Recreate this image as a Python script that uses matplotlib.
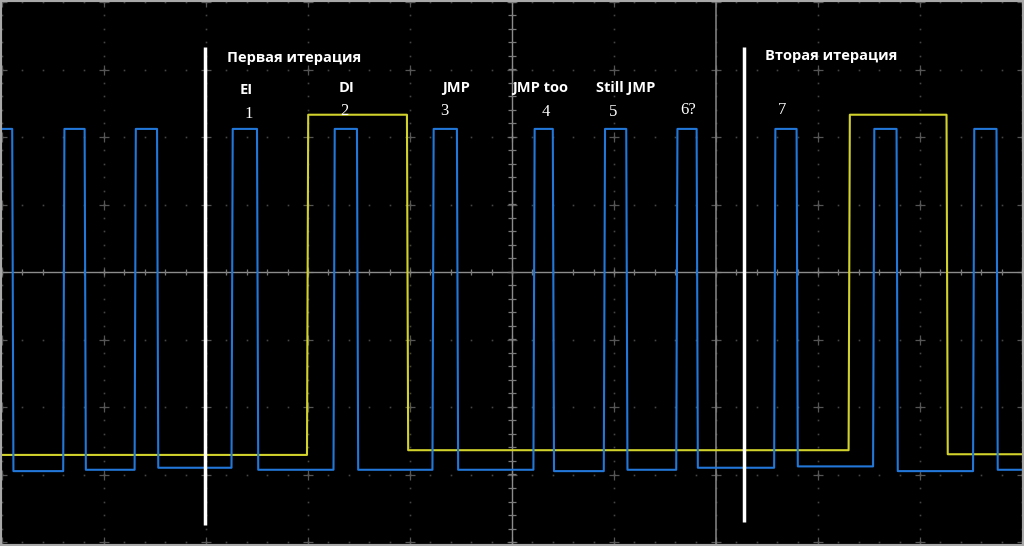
import numpy as np
import matplotlib.pyplot as plt

# time in divisions (centre of screen = 0), voltage in divisions
# blue channel: pulse start / end times
blue_starts = [-5.10, -4.40, -3.70, -2.75, -1.75, -0.78, 0.21, 0.90, 1.61, 2.57, 3.54, 4.52]
blue_ends = [-4.90, -4.19, -3.48, -2.50, -1.52, -0.54, 0.40, 1.12, 1.81, 2.79, 3.77, 4.75]
blue_high = 2.12
blue_low = [-2.93, -2.95, -2.93, -2.90, -2.93, -2.93, -2.93, -2.95, -2.93, -2.90, -2.88, -2.95, -2.93]

# yellow channel
yellow_starts = [-2.01, 3.30]
yellow_ends = [-1.03, 4.26]
yellow_high = 2.33
yellow_low = [-2.71, -2.64, -2.70]

# white markers (iteration boundaries)
marker_x = [-3.01, 2.27]
marker_top = [3.33, 3.33]
marker_bottom = [-3.75, -3.70]
cursor_x = 2.0

labels = ["EI", "DI", "JMP", "JMP too", "Still JMP"]
labels_px = [(246, 90), (347, 88), (456, 88), (540, 88), (626, 88)]
numbers = ["1", "2", "3", "4", "5", "6?", "7"]
numbers_px = [(249, 114), (344, 111), (444, 111), (546, 112), (613, 112), (688, 110), (782, 110)]
titles = ["Первая итерация", "Вторая итерация"]
titles_px = [(227, 58), (765, 56)]

BLUE = '#2277d8'
YELLOW = '#d2d22c'


def px(x, y):
    return (x - 512) / 102.0, (272 - y) / 67.5


def square_wave(starts, ends, high, lows, t0=-5.2, t1=5.2, rise=0.012):
    # lows[0] before first pulse, lows[i+1] after pulse i
    xs, ys = [t0], [lows[0] if starts[0] > t0 else high]
    for i, (s, e) in enumerate(zip(starts, ends)):
        low_before = lows[min(i, len(lows) - 1)]
        xs += [s, s + rise, e, e + rise]
        ys += [low_before, high, high, lows[min(i + 1, len(lows) - 1)]]
    xs.append(t1)
    ys.append(ys[-1])
    return xs, ys


fig = plt.figure(figsize=(10.24, 5.46), dpi=100, facecolor='black')
ax = fig.add_axes([0, 0, 1, 1])
ax.set_facecolor('black')
ax.set_xlim(-512 / 102.0, 512 / 102.0)
ax.set_ylim(-274 / 67.5, 272 / 67.5)
ax.axis('off')

# graticule dots
for gx in np.arange(-5, 6):
    ys = np.arange(-4, 4.01, 0.2)
    ax.plot(np.full_like(ys, gx), ys, ls='none', marker='s', ms=1.2, color='#454545', mec='none')
for gy in np.arange(-4, 5):
    xs = np.arange(-5, 5.01, 0.2)
    ax.plot(xs, np.full_like(xs, gy), ls='none', marker='s', ms=1.2, color='#454545', mec='none')
gx, gy = np.meshgrid(np.arange(-5, 6), np.arange(-4, 5))
ax.plot(gx.ravel(), gy.ravel(), ls='none', marker='+', ms=7, mew=0.9, color='#555555')

# centre axes with ticks
ax.axhline(0, color='#8c8c8c', lw=1)
ax.axvline(0, color='#8c8c8c', lw=1)
tx = np.arange(-5, 5.01, 0.2)
ax.plot(tx, np.zeros_like(tx), ls='none', marker='|', ms=5, mew=0.9, color='#7a7a7a')
ty = np.arange(-4, 4.01, 0.2)
ax.plot(np.zeros_like(ty), ty, ls='none', marker='_', ms=6, mew=0.9, color='#7a7a7a')
ax.axvline(cursor_x, color='#7c7c7c', lw=1.2)

# traces
yx, yy = square_wave(yellow_starts, yellow_ends, yellow_high, yellow_low)
ax.plot(yx, yy, color=YELLOW, lw=1.5)
bx, by = square_wave(blue_starts, blue_ends, blue_high, blue_low)
ax.plot(bx, by, color=BLUE, lw=1.5)

# white iteration markers
ax.vlines(marker_x, marker_bottom, marker_top, color='white', lw=2.5)

for s, (x, y) in zip(titles, titles_px):
    ax.text(*px(x, y), s, color='white', fontsize=10.5, fontweight='bold',
            family='Open Sans', ha='left', va='center')
for s, (x, y) in zip(labels, labels_px):
    ax.text(*px(x, y), s, color='white', fontsize=10.5, fontweight='bold',
            family='Open Sans', ha='center', va='center')
for s, (x, y) in zip(numbers, numbers_px):
    ax.text(*px(x, y), s, color='white', fontsize=12,
            family='Liberation Serif', ha='center', va='center')

# light border like the screenshot frame
fig.patches.append(plt.Rectangle((0, 0), 1, 1, transform=fig.transFigure,
                                 fill=False, ec='#a8a8a8', lw=3))

fig.savefig('out.png', dpi=100, facecolor='black')
